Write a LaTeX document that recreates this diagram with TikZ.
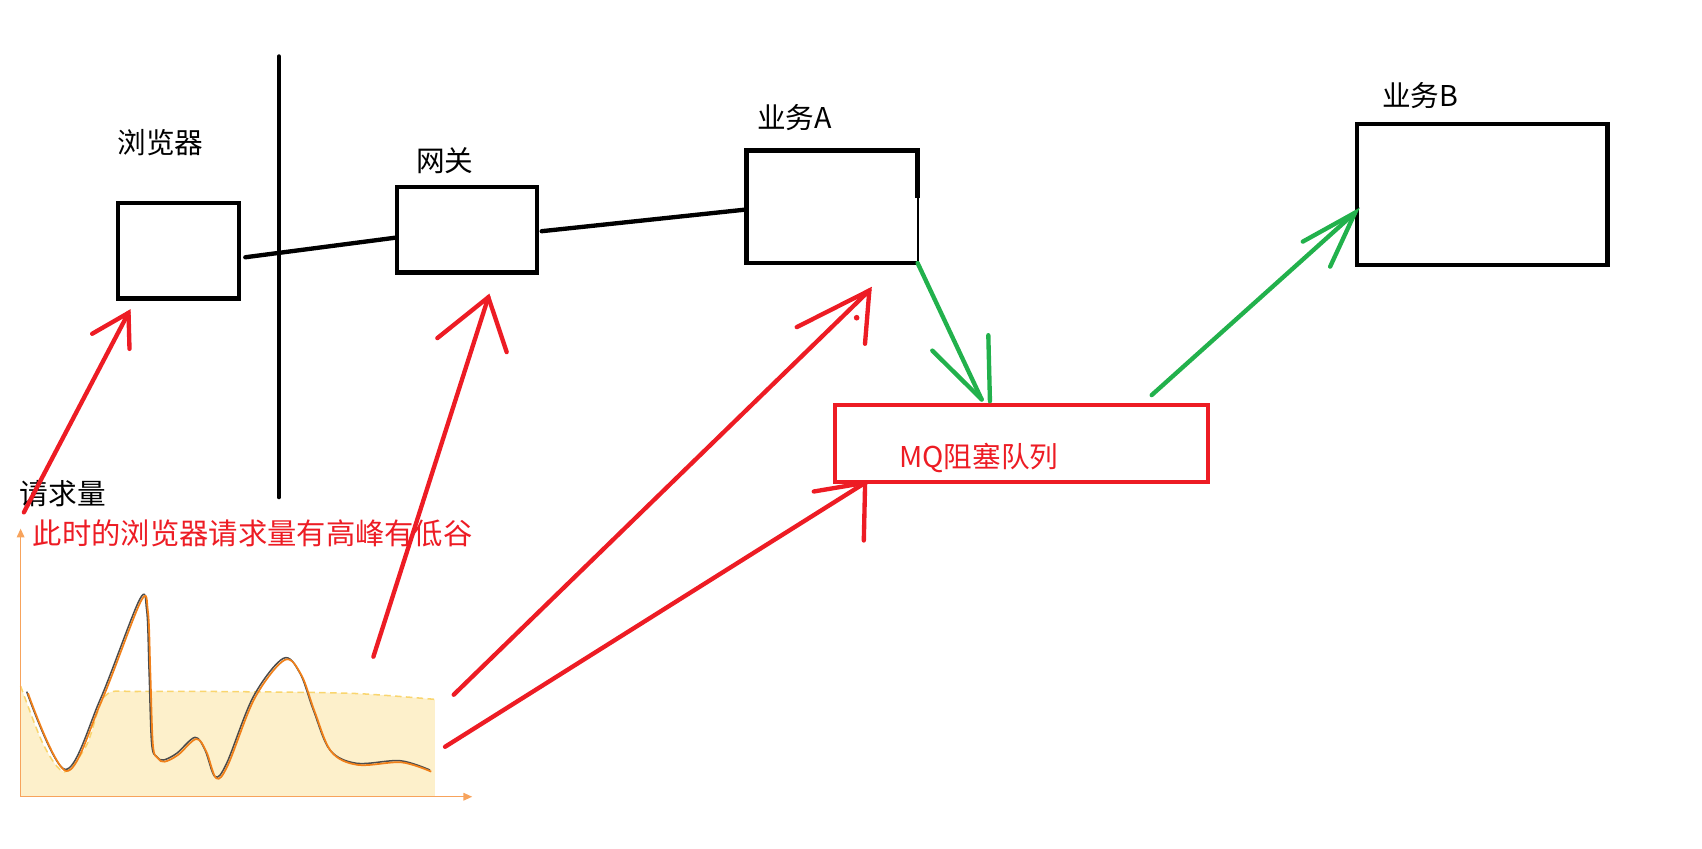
\documentclass[tikz,border=0pt]{standalone}
\usepackage{fontspec}
\setmainfont{Noto Sans CJK SC}
\usetikzlibrary{arrows.meta,calc,positioning}
\definecolor{paintred}{HTML}{ED1C24}
\definecolor{paintgreen}{HTML}{22B14C}
\definecolor{axisorange}{HTML}{F7A35C}
\definecolor{curveorange}{HTML}{F0801A}
\definecolor{fillyellow}{HTML}{FDF0CB}
\definecolor{dashyellow}{HTML}{F9D56E}
\tikzset{
  box/.style={draw, line width=2pt, inner sep=0pt},
  lbl/.style={font=\fontsize{13.2}{15}\selectfont, inner sep=0pt, anchor=west},
  link/.style={line width=2pt, line cap=round},
  redpen/.style={paintred, line width=2pt, line cap=round},
  greenpen/.style={paintgreen, line width=2pt, line cap=round},
}

\begin{document}
\begin{tikzpicture}[x=0.5pt,y=-0.5pt]
  \useasboundingbox (0,0) rectangle (1568,782);
  % Boxes
  \node[box, minimum width=55.5pt, minimum height=44pt] (brow) at (164.5,231) {};
  \node[box, minimum width=64.5pt, minimum height=39.5pt] (gw) at (430.5,211.5) {};
  \node[inner sep=0pt, minimum width=78.5pt, minimum height=51.5pt] (bizA) at (766.5,190.5) {};
  \node[box, minimum width=115.5pt, minimum height=65pt] (bizB) at (1365.5,179) {};
  \node[box, paintred, minimum width=172pt, minimum height=35.5pt] (mq) at (941,408.5) {};
  % Box A, right side thinner below
  \draw[line width=2pt] ($(bizA.north east)+(0,44)$) -- (bizA.north east) -- (bizA.north west)
    -- (bizA.south west) -- (bizA.south east);
  \draw[line width=1pt] (bizA.south east) -- ($(bizA.north east)+(0,44)$);
  % Labels
  \node[lbl] (browlbl) at (108,131) {浏览器};
  \node[lbl] (gwlbl) at (383,148) {网关};
  \node[lbl] (bizAlbl) at (697,108) {业务A};
  \node[lbl] (bizBlbl) at (1273,88) {业务B};
  \node[lbl, paintred] (mqlbl) at (828,422) {MQ阻塞队列};
  \node[lbl] (reqlbl) at (18,455) {请求量};
  \node[lbl, paintred, font=\fontsize{13.5}{15}\selectfont] (peaklbl) at (30,491.5) {此时的浏览器请求量有高峰有低谷};
  % Wall
  \coordinate (wallTop) at (257,52);
  \coordinate (wallBot) at (257,458);
  \draw[link] (wallTop) -- (wallBot);
  % Black links
  \draw[link] ($(brow.east)+(4,6)$) -- ($(gw.west)+(0,7.5)$);
  \draw[link] ($(gw.east)+(2,1.5)$) -- ($(bizA.west)+(0,2.5)$);
  % Chart
  \fill[fillyellow] plot[smooth] coordinates {(19,632) (40,686) (59.5,711) (80,686) (97,641)
    (130,637) (250,637.5) (330,639) (400.7,644.3)} -- (400.7,734) -- (19,734) -- cycle;
  \draw[dashyellow, line width=0.7pt, dash pattern=on 3pt off 2pt] plot[smooth] coordinates {(19,632)
    (40,686) (59.5,711) (80,686) (97,641) (130,637) (250,637.5) (330,639) (400.7,644.3)};
  \draw[axisorange, line width=0.6pt, -{Triangle[length=4pt,width=3.5pt]}] (19,734) -- (19,487);
  \draw[axisorange, line width=0.6pt, -{Triangle[length=4pt,width=3.5pt]}] (19,734) -- (435,734);
  \draw[black!70, line width=0.7pt] plot[smooth, tension=0.55] coordinates {(24.6,637.2) (59.9,708.8)
    (92.1,644.9) (128.4,552.8) (135.1,562) (137.3,617.2) (139.7,684.8) (144.3,697.1) (150.5,700.2)
    (162.8,694) (179.6,679.3) (188.9,691) (198.1,715.5) (208.8,703.2) (233.4,641.8) (261,606.5)
    (276.4,620.3) (288.7,654.1) (304,691) (328.6,703.2) (368.5,700.8) (396.1,709.4)};
  \draw[curveorange, line width=0.8pt, shift={(1.2,1.5)}] plot[smooth, tension=0.55] coordinates {(24.6,637.2) (59.9,708.8)
    (92.1,644.9) (128.4,552.8) (135.1,562) (137.3,617.2) (139.7,684.8) (144.3,697.1) (150.5,700.2)
    (162.8,694) (179.6,679.3) (188.9,691) (198.1,715.5) (208.8,703.2) (233.4,641.8) (261,606.5)
    (276.4,620.3) (288.7,654.1) (304,691) (328.6,703.2) (368.5,700.8) (396.1,709.4)};
  % Red arrows, from the chart
  \coordinate (tailBrow) at (22,472);
  \coordinate (tailGw) at (344,605);
  \coordinate (tailA) at (418,640);
  \coordinate (tailMq) at (410,688);
  \coordinate (tipBrow) at ($(brow.south west)+(11.4,11.2)$);
  \coordinate (tipGw) at ($(gw.south)+(19.4,20.8)$);
  \coordinate (tipA) at ($(bizA.south)+(34.4,25.2)$);
  \coordinate (tipMq) at ($(mq.south west)+(30,-1.2)$);
  \draw[redpen] (tailBrow) -- (tipBrow);
  \draw[redpen] ($(tipBrow)+(-33.5,19.3)$) -- (tipBrow) -- ($(tipBrow)+(0.9,33.2)$);
  \draw[redpen] (tailGw) -- (tipGw);
  \draw[redpen] ($(tipGw)+(-47,37.7)$) -- (tipGw) -- ($(tipGw)+(16.9,50.6)$);
  \draw[redpen] (tailA) -- (tipA);
  \draw[redpen] ($(tipA)+(-66.9,33.8)$) -- (tipA) -- ($(tipA)+(-4,49.1)$);
  \fill[paintred] ($(tipA)+(-11.7,25.1)$) circle (1.3pt);
  \draw[redpen] (tailMq) -- (tipMq);
  \draw[redpen] ($(tipMq)+(-47.3,8)$) -- (tipMq) -- ($(tipMq)+(-1.2,53.1)$);
  % Green arrows, through the queue
  \coordinate (tipQ) at ($(mq.north)+(-36.6,-3)$);
  \draw[greenpen] (bizA.south east) -- (tipQ);
  \draw[greenpen] ($(tipQ)+(-45.5,-45)$) -- (tipQ);
  \draw[greenpen] ($(tipQ)+(6.1,-59.2)$) -- ($(tipQ)+(7.6,1.6)$);
  \coordinate (tipB) at ($(bizB.west)+(0.4,16.9)$);
  \draw[greenpen] ($(mq.north)+(120,-7)$) -- (tipB);
  \draw[greenpen] ($(tipB)+(-48.2,26.7)$) -- (tipB) -- ($(tipB)+(-23,49.8)$);
\end{tikzpicture}
\end{document}
